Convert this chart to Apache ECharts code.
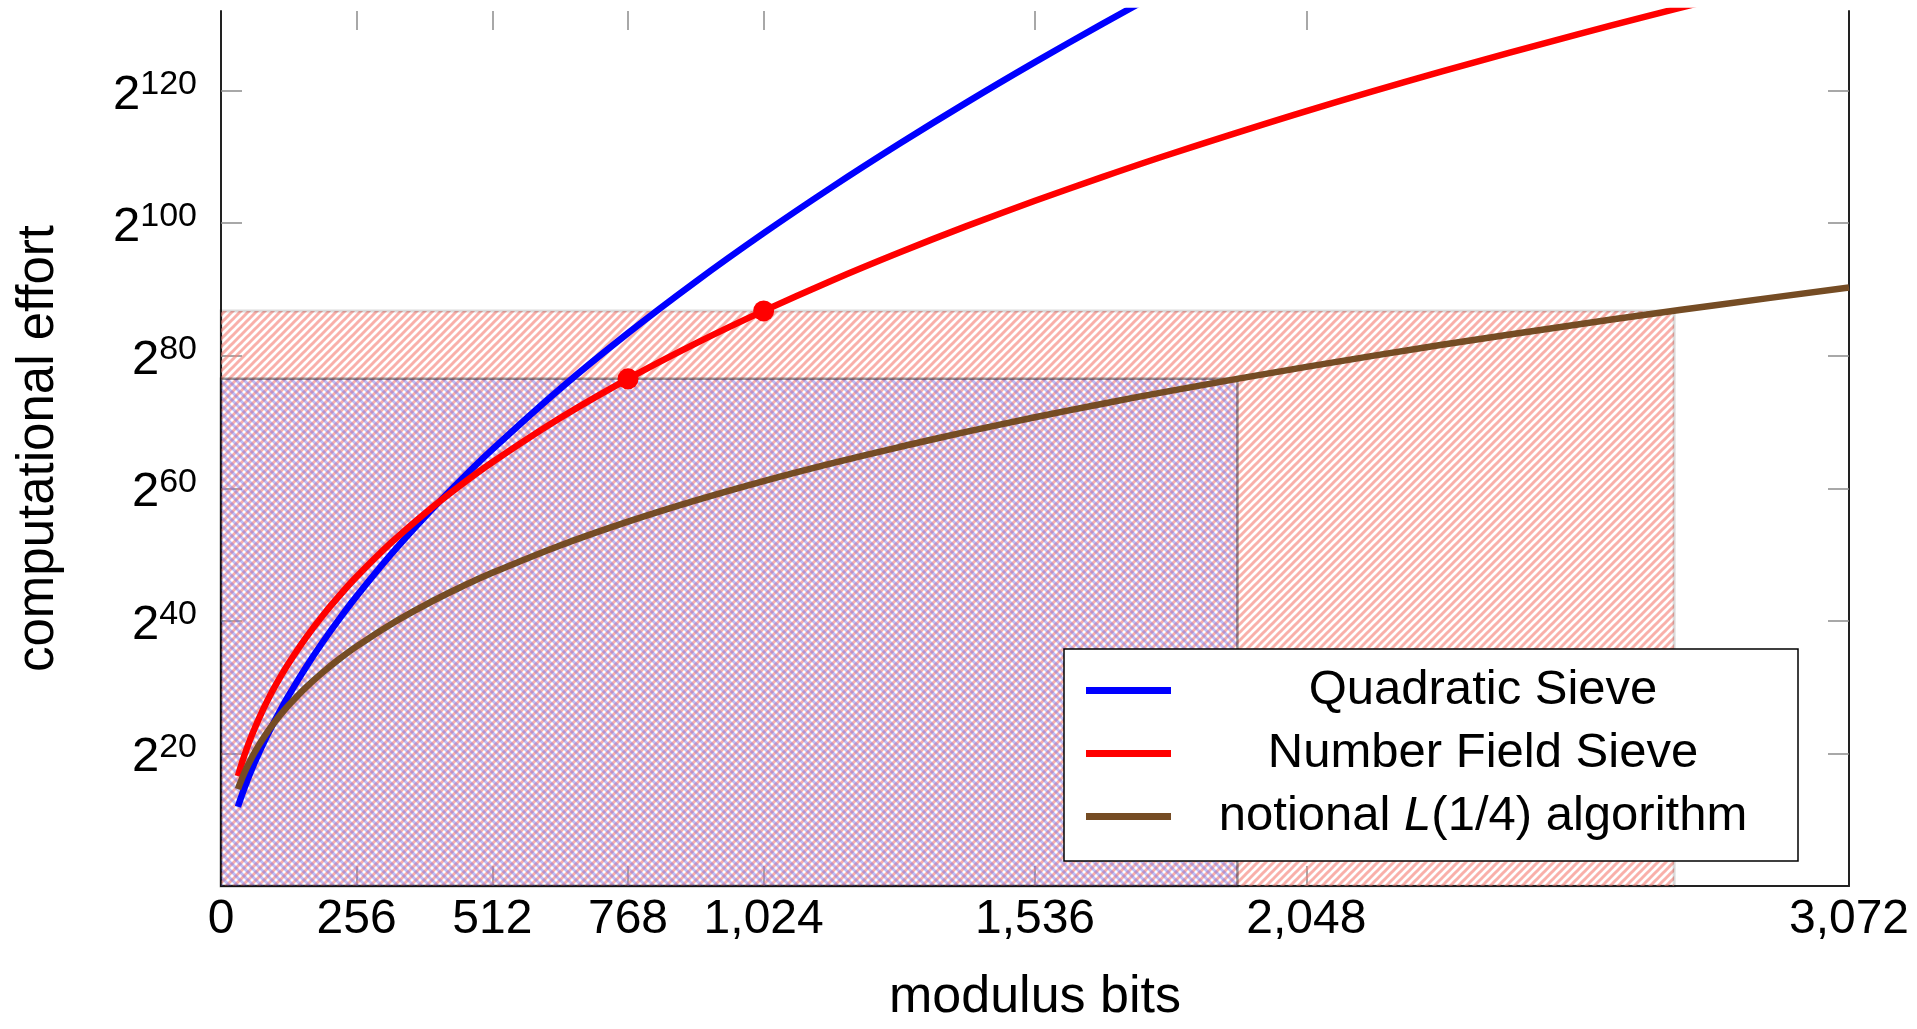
<!DOCTYPE html>
<html><head><meta charset="utf-8">
<script src="https://cdn.jsdelivr.net/npm/echarts@6/dist/echarts.min.js"></script>
<style>html,body{margin:0;padding:0;background:#fff;}#c{width:1917px;height:1029px;}</style>
</head><body><div id="c"></div>
<script>
// ---- data ----
const bits = [32,40,48,56,64,80,96,112,128,160,192,224,256,320,384,448,512,640,768,896,1024,1152,1280,1408,1536,1664,1792,2048,2304,2560,2688,2816,3072];
const qsEffort = [11.96,13.85,15.58,17.19,18.71,21.53,24.11,26.52,28.78,32.97,36.81,40.38,43.73,49.94,55.62,60.90,65.86,75.02,83.40,91.18,98.48,105.39,111.96,118.25,124.28,130.10,135.72,null,null,null,null,null,null];
const nfsEffort = [16.57,18.70,20.59,22.30,23.88,26.73,29.26,31.55,33.65,37.44,40.81,43.86,46.67,51.71,56.17,60.22,63.93,70.60,76.51,81.86,86.76,91.32,95.57,99.58,103.37,106.98,110.43,116.89,122.88,128.48,131.15,133.74,null];
const l14Effort = [14.63,16.29,17.75,19.05,20.24,22.34,24.17,25.81,27.30,29.93,32.23,34.29,36.15,39.46,42.34,44.91,47.24,51.37,54.96,58.17,61.08,63.75,66.22,68.54,70.71,72.76,74.70,78.32,81.64,84.71,86.17,87.58,90.29];
const nfsMarkBits = [768, 1024];
const nfsMarkEffort = [76.51, 86.76];
const regionBits = [2742, 1918];      // red region, blue region (right edges)
const regionEffort = [86.76, 76.51];  // red region, blue region (tops)
const seriesNames = ['Quadratic Sieve', 'Number Field Sieve', 'notional L(1/4) algorithm'];
const xTickLabels = [0,256,512,768,1024,1536,2048,3072];
const xTickMarks = [256,512,768,1024,1536,2048];
const yTickValues = [20,40,60,80,100,120];
const xMax = 3072, yMax = 132;

// ---- styling helpers ----
const FONT = '"Liberation Sans", Arial, sans-serif';
function hatch(color, dir, size, lw) {
  const c = document.createElement('canvas'); c.width = c.height = size;
  const g = c.getContext('2d'); g.strokeStyle = color; g.lineWidth = lw; g.lineCap = 'square';
  for (let k = -1; k <= 1; k++) {
    g.beginPath();
    if (dir > 0) { g.moveTo(k*size, size); g.lineTo(k*size+size, 0); }
    else { g.moveTo(k*size, 0); g.lineTo(k*size+size, size); }
    g.stroke();
  }
  return c;
}
const redHatch = hatch('rgba(246,128,118,0.62)', 1, 8, 3);
const blueHatch = hatch('rgba(110,110,235,0.45)', -1, 8, 3);

const LEG_FS = 49, TEXT_W = 614;
const mctx = document.createElement('canvas').getContext('2d');
function tw(t, it) { mctx.font = (it ? 'italic ' : '') + LEG_FS + 'px "Liberation Sans"'; return mctx.measureText(t).width; }
function pieces(name) {
  const m = name.match(/^(.*?)(L)(\(.*)$/);
  return m ? [[m[1], false], [m[2], true], [m[3], false]] : [[name, false]];
}
const legRich = {
  t: {fontSize: LEG_FS, fontFamily: FONT, color: '#000', lineHeight: 50},
  i: {fontSize: LEG_FS, fontFamily: FONT, fontStyle: 'italic', color: '#000', lineHeight: 50}
};
seriesNames.forEach((n, k) => {
  const w = pieces(n).reduce((s, p) => s + tw(p[0], p[1]), 0);
  legRich['p' + k] = {width: Math.max(1, (TEXT_W - w) / 2), lineHeight: 50, fontSize: LEG_FS};
});

const chart = echarts.init(document.getElementById('c'));
const tickStyle = {color: '#8c8c8c', width: 1.5};
const lineCommon = {showSymbol: false, symbol: 'none', smooth: 0.3};
chart.setOption({
  animation: false,
  backgroundColor: '#fff',
  grid: {left: 221, right: 68, top: 11, bottom: 138, containLabel: false},
  legend: {
    data: seriesNames, orient: 'vertical', left: 1064, top: 649,
    itemWidth: 85, itemHeight: 7, itemGap: 14, icon: 'rect',
    padding: [17, 8, 20, 22], borderColor: '#000', borderWidth: 1.5, backgroundColor: '#fff',
    selectedMode: false, z: 10,
    textStyle: {fontFamily: FONT, fontSize: LEG_FS, color: '#000', rich: legRich},
    formatter: function (name) {
      const k = seriesNames.indexOf(name);
      return '{p' + k + '| }' + pieces(name).map(p => '{' + (p[1] ? 'i' : 't') + '|' + p[0] + '}').join('') + '{p' + k + '| }';
    }
  },
  xAxis: [{
    type: 'value', min: 0, max: xMax, position: 'bottom',
    axisLine: {show: true, onZero: false, lineStyle: {color: '#222', width: 2}},
    axisTick: {show: true, inside: true, length: 20, customValues: xTickMarks, lineStyle: tickStyle},
    axisLabel: {customValues: xTickLabels, formatter: v => Number(v).toLocaleString('en-US'),
      fontSize: 48, fontFamily: FONT, color: '#000', margin: 10, hideOverlap: false},
    splitLine: {show: false},
    name: 'modulus bits', nameLocation: 'middle', nameGap: 86,
    nameTextStyle: {fontSize: 52, fontFamily: FONT, color: '#000'}
  }, {
    type: 'value', min: 0, max: xMax, position: 'top',
    axisLine: {show: false, onZero: false},
    axisTick: {show: true, inside: true, length: 19, customValues: xTickMarks, lineStyle: tickStyle},
    axisLabel: {show: false}, splitLine: {show: false}
  }],
  yAxis: [{
    type: 'value', min: 0, max: yMax, position: 'left',
    axisLine: {show: true, onZero: false, lineStyle: {color: '#222', width: 2}},
    axisTick: {show: true, inside: true, length: 21, customValues: yTickValues, lineStyle: tickStyle},
    axisLabel: {customValues: yTickValues, margin: 24, formatter: v => '{b|2}{s|' + v + '}',
      rich: {
        b: {fontSize: 49, fontFamily: FONT, color: '#000', lineHeight: 58, verticalAlign: 'bottom', padding: [6, 0, 0, 0]},
        s: {fontSize: 34, fontFamily: FONT, color: '#000', lineHeight: 34, verticalAlign: 'top', padding: [6, 0, 0, 0]}
      }},
    splitLine: {show: false},
    name: 'computational effort', nameLocation: 'middle', nameRotate: 90, nameGap: 157,
    nameTextStyle: {fontSize: 51, fontFamily: FONT, color: '#000'}
  }, {
    type: 'value', min: 0, max: yMax, position: 'right',
    axisLine: {show: true, onZero: false, lineStyle: {color: '#222', width: 2}},
    axisTick: {show: true, inside: true, length: 21, customValues: yTickValues, lineStyle: tickStyle},
    axisLabel: {show: false}, splitLine: {show: false}
  }],
  series: [Object.assign({
    name: seriesNames[0], type: 'line', color: '#0000ff',
    data: bits.map((b, i) => [b, qsEffort[i]]),
    lineStyle: {width: 6.5, color: '#0000ff'}, z: 3,
    markArea: {
      silent: true, label: {show: false},
      data: [
        [{coord: [0, 0], itemStyle: {color: {image: redHatch, repeat: 'repeat'}, borderColor: 'rgba(0,0,0,0.14)', borderWidth: 3}},
         {coord: [regionBits[0], regionEffort[0]]}],
        [{coord: [0, 0], itemStyle: {color: {image: blueHatch, repeat: 'repeat'}, borderColor: 'rgba(0,0,0,0.38)', borderWidth: 2.5}},
         {coord: [regionBits[1], regionEffort[1]]}]
      ]
    }
  }, lineCommon), Object.assign({
    name: seriesNames[1], type: 'line', color: '#ff0000',
    data: bits.map((b, i) => [b, nfsEffort[i]]),
    lineStyle: {width: 6.5, color: '#ff0000'}, z: 4
  }, lineCommon), Object.assign({
    name: seriesNames[2], type: 'line', color: '#754c24',
    data: bits.map((b, i) => [b, l14Effort[i]]),
    lineStyle: {width: 6.5, color: '#754c24'}, z: 5
  }, lineCommon), {
    name: 'NFS marks', type: 'scatter', symbol: 'circle', symbolSize: 21,
    data: nfsMarkBits.map((b, i) => [b, nfsMarkEffort[i]]),
    itemStyle: {color: '#ff0000', opacity: 1}, z: 6, silent: true
  }]
});
</script></body></html>
